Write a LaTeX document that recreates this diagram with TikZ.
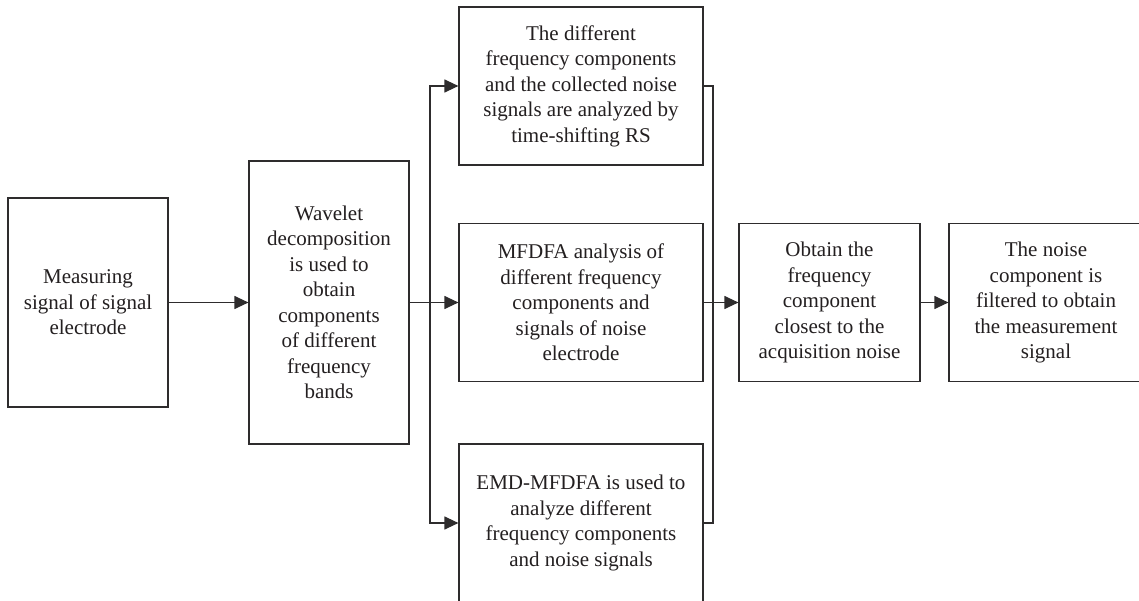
\documentclass[tikz,border=0pt]{standalone}
\usepackage{fontspec}
\setmainfont{Liberation Serif}
\usetikzlibrary{arrows.meta}
\definecolor{ink}{HTML}{231F20}
\definecolor{rule}{HTML}{2E2C2D}
\tikzset{
  blk/.style={draw=rule, line width=1.2pt, text=ink, align=center, inner sep=0pt,
    font=\fontsize{21}{25.5}\selectfont},
  conn/.style={draw=rule, line width=1.2pt},
  arr/.style={conn, -{Triangle[length=14pt,width=13pt]}}
}
\begin{document}
\begin{tikzpicture}[x=1pt,y=-1pt]
\useasboundingbox (0,0) rectangle (1139,601);
\clip (0,0) rectangle (1139,601);
\fill[white] (0,0) rectangle (1139,601);
\node[blk, minimum width=160pt, minimum height=209pt] (m1) at (88,302.5)
  {Measuring\\signal of signal\\electrode};
\node[blk, minimum width=160pt, minimum height=283pt] (m2) at (329,302.5)
  {Wavelet\\decomposition\\is used to\\obtain\\components\\of different\\frequency\\bands};
\node[blk, minimum width=244pt, minimum height=158pt] (a1) at (581,86)
  {The different\\frequency components\\and the collected noise\\signals are analyzed by\\time-shifting RS};
\node[blk, minimum width=244pt, minimum height=158pt] (a2) at (581,302.5)
  {MFDFA analysis of\\different frequency\\components and\\signals of noise\\electrode};
\node[blk, minimum width=244pt, minimum height=158pt] (a3) at (581,523)
  {EMD-MFDFA is used to\\analyze different\\frequency components\\and noise signals};
\node[blk, minimum width=181pt, minimum height=158pt] (o) at (829.5,302.5)
  {Obtain the\\frequency\\component\\closest to the\\acquisition noise};
\node[blk, minimum width=194pt, minimum height=158pt] (f) at (1046,302.5)
  {The noise\\component is\\filtered to obtain\\the measurement\\signal};
\coordinate (sp) at (430,302.5);
\coordinate (mg) at (713,302.5);
\draw[arr] (m1.east) -- (m2.west);
\draw[arr] (m2.east) -- (a2.west);
\draw[arr] (sp) |- (a1.west);
\draw[arr] (sp) |- (a3.west);
\draw[conn] (a1.east) -| (mg);
\draw[conn] (a3.east) -| (mg);
\draw[arr] (a2.east) -- (o.west);
\draw[arr] (o.east) -- (f.west);
\end{tikzpicture}
\end{document}
